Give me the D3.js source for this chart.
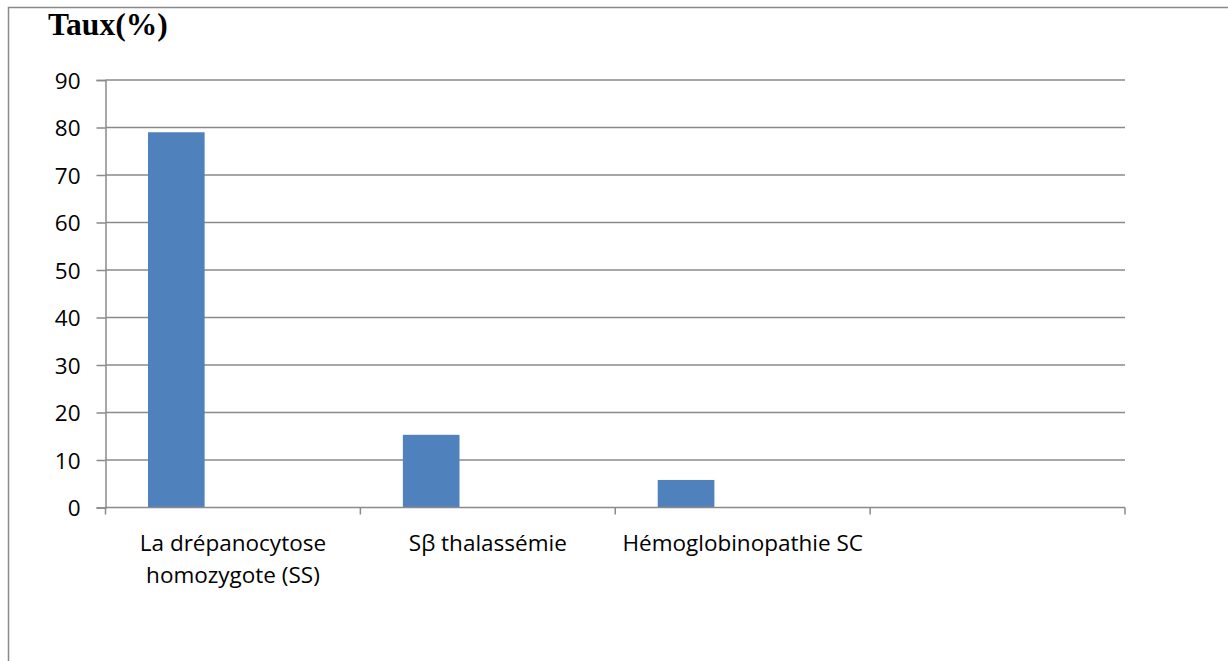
<!DOCTYPE html>
<html>
<head>
<meta charset="utf-8">
<script src="https://cdn.jsdelivr.net/npm/d3@7"></script>
<style>
  html, body { margin: 0; padding: 0; background: #fff; }
  svg { display: block; }
</style>
</head>
<body>
<svg id="chart" width="1228" height="661"></svg>
<script>
// Répartition des syndromes drépanocytaires (en %)
const categories = ["La drépanocytose homozygote (SS)", "Sβ thalassémie", "Hémoglobinopathie SC", ""];
const values = [79, 15.3, 5.8, null];
const yTicks = [0, 10, 20, 30, 40, 50, 60, 70, 80, 90];
const seriesSlots = ["Taux", "slot2", "slot3"];
const yTitle = "Taux(%)";

const W = 1228, H = 661;
const svg = d3.select("#chart");
const gridColor = "#8a8a8a";
const barColor = "#4f81bd";
const labelFont = "'Open Sans', sans-serif";
const labelSize = "22.5px";

// Chart frame
svg.append("path")
  .attr("d", `M8.5,${H} V7.5 H${W}`)
  .attr("fill", "none")
  .attr("stroke", gridColor)
  .attr("stroke-width", 1.5);

const plot = { left: 105.5, right: 1125, top: 80, bottom: 507.5 };

const x = d3.scaleBand().domain(categories.map((d, i) => i)).range([plot.left, plot.right]).padding(0);
const xInner = d3.scaleBand().domain(seriesSlots).range([0, x.bandwidth()]).paddingInner(0).paddingOuter(0.75);
const y = d3.scaleLinear().domain([0, 90]).range([plot.bottom, plot.top]);

// Horizontal gridlines
svg.append("g")
  .selectAll("line")
  .data(yTicks.filter(t => t !== 0))
  .join("line")
  .attr("x1", plot.left).attr("x2", plot.right)
  .attr("y1", d => y(d)).attr("y2", d => y(d))
  .attr("stroke", gridColor).attr("stroke-width", 1.5);

// Bars
svg.append("g")
  .selectAll("rect")
  .data(values.map((v, i) => ({ v, i })).filter(d => d.v != null))
  .join("rect")
  .attr("x", d => x(d.i) + xInner("Taux"))
  .attr("width", xInner.bandwidth())
  .attr("y", d => y(d.v))
  .attr("height", d => y(0) - y(d.v))
  .attr("fill", barColor);

// Y axis
const yAxis = svg.append("g")
  .attr("transform", `translate(${plot.left},0)`)
  .call(d3.axisLeft(y).tickValues(yTicks).tickSize(9).tickPadding(16).tickFormat(d3.format("d")));
yAxis.select(".domain").attr("stroke", gridColor).attr("stroke-width", 1.5);
yAxis.selectAll(".tick line").attr("stroke", gridColor).attr("stroke-width", 1.5);
yAxis.selectAll(".tick text")
  .attr("fill", "#000")
  .attr("dy", "0.36em")
  .style("font-family", labelFont)
  .style("font-size", labelSize);

// X axis (category boundaries)
const bounds = categories.map((d, i) => x(i)).concat([plot.right]);
const xAxis = svg.append("g");
xAxis.append("line")
  .attr("x1", plot.left).attr("x2", plot.right)
  .attr("y1", plot.bottom).attr("y2", plot.bottom)
  .attr("stroke", gridColor).attr("stroke-width", 1.5);
xAxis.selectAll("line.tick")
  .data(bounds)
  .join("line")
  .attr("class", "tick")
  .attr("x1", d => d).attr("x2", d => d)
  .attr("y1", plot.bottom).attr("y2", plot.bottom + 7)
  .attr("stroke", gridColor).attr("stroke-width", 1.5);

// Category labels, wrapped to the band width
const maxW = x.bandwidth() - 4;
categories.forEach((label, i) => {
  if (!label) return;
  const cx = x(i) + x.bandwidth() / 2;
  const t = xAxis.append("text")
    .attr("x", cx)
    .attr("y", 551)
    .attr("text-anchor", "middle")
    .attr("fill", "#000")
    .style("font-family", labelFont)
    .style("font-size", labelSize);
  const words = label.split(" ");
  let line = [];
  let tspan = t.append("tspan").attr("x", cx).attr("dy", 0);
  words.forEach(w => {
    line.push(w);
    tspan.text(line.join(" "));
    if (tspan.node().getComputedTextLength() > maxW && line.length > 1) {
      line.pop();
      tspan.text(line.join(" "));
      line = [w];
      tspan = t.append("tspan").attr("x", cx).attr("dy", 32).text(w);
    }
  });
});

// Axis title
svg.append("text")
  .attr("x", 48)
  .attr("y", 35)
  .attr("fill", "#000")
  .style("font-family", "'Liberation Serif', 'Times New Roman', serif")
  .style("font-weight", "bold")
  .style("font-size", "31.5px")
  .text(yTitle);
</script>
</body>
</html>
